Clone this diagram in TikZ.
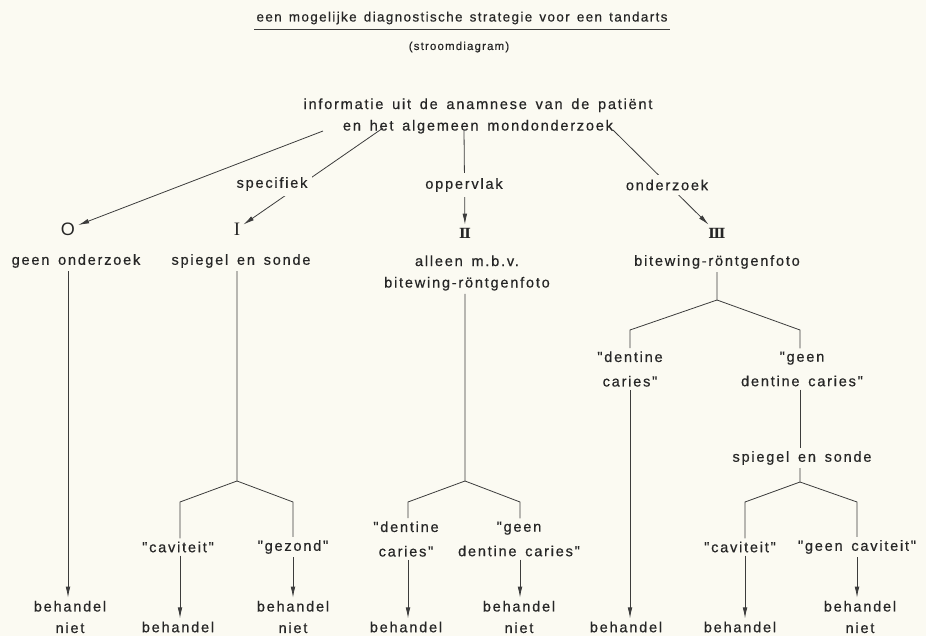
\documentclass[tikz,border=0pt]{standalone}
\usepackage{fontspec}
\setmainfont{Liberation Sans}
\newfontfamily\lblfont[LetterSpace=12,WordSpace=1.5,FakeBold=0.5]{Liberation Sans}
\newfontfamily\ttlfont[LetterSpace=10,WordSpace=1.4,FakeBold=0.5]{Liberation Sans}
\newfontfamily\romfont{DejaVu Serif}
\newfontfamily\serfont{Liberation Serif}
\usetikzlibrary{arrows.meta}
\definecolor{paper}{HTML}{FBFAF2}
\definecolor{ink}{HTML}{262626}
\tikzset{
  txt/.style={font=\lblfont\fontsize{14.6}{21.5}\selectfont, text=ink, align=center, inner sep=3pt},
  txtw/.style={txt, font=\lblfont\fontsize{14.6}{24.5}\selectfont},
  ttl/.style={font=\ttlfont\fontsize{13.5}{14}\selectfont, text=ink, inner sep=2pt},
  subt/.style={font=\ttlfont\fontsize{11.5}{14}\selectfont, text=ink, inner sep=2pt},
  cut/.style={txt, fill=paper, inner sep=5pt},
  lvl/.style={text=ink, inner sep=3pt},
  con/.style={draw=ink!90, line width=0.8pt},
  arr/.style={con, -{Latex[length=11pt,width=4.6pt]}},
}
\begin{document}
\begin{tikzpicture}[x=1pt,y=-1pt]
\fill[paper] (0,0) rectangle (926,636);
\useasboundingbox (0,0) rectangle (926,636);

% title
\node[ttl] (title) at (462,18) {een mogelijke diagnostische strategie voor een tandarts};
\draw[con, line width=0.7pt] ([yshift=-3pt]title.south west) -- ([yshift=-3pt]title.south east);
\node[subt] (sub) at (459,47) {(stroomdiagram)};

% root
\node[txt] (root) at (478,116) {informatie uit de anamnese van de patiënt\\en het algemeen mondonderzoek};
\coordinate (r0) at (323,131);
\coordinate (r1) at (383,128);
\coordinate (r2) at (464,130);
\coordinate (r3) at (613,130);

% levels
\node[lvl, font=\fontsize{18}{18}\selectfont] (l0) at (68,229) {O};
\node[lvl, font=\serfont\fontsize{19}{19}\selectfont] (l1) at (237,229) {I};
\node[lvl, font=\romfont\bfseries\fontsize{14}{14}\selectfont] (l2) at (465,233) {Ⅱ};
\node[lvl, font=\romfont\bfseries\fontsize{14}{14}\selectfont] (l3) at (717,233) {Ⅲ};

\draw[arr] (r0) -- (l0);
\draw[arr] (r1) -- (l1);
\draw[arr] (r2) -- (l2);
\draw[arr] (r3) -- (l3);
\node[cut] (spec) at (272,184) {specifiek};
\node[cut] (opp) at (464,185) {oppervlak};
\node[cut] (ond) at (667,185) {onderzoek};

% method nodes
\node[txt] (m0) at (76,261) {geen onderzoek};
\node[txt] (m1) at (241,261) {spiegel en sonde};
\node[txt] (m2) at (467,273) {alleen m.b.v.\\bitewing-röntgenfoto};
\node[txt] (m3) at (717,262) {bitewing-röntgenfoto};

% ---- branch O
\node[txt] (b0) at (70,617) {behandel\\niet};
\draw[arr] (m0.south -| l0) -- (l0 |- b0.north);

% ---- branch I
\coordinate (a1) at (237,481);
\coordinate (a1l) at (180,502);
\coordinate (a1r) at (293,502);
\node[txt] (c1l) at (178,547) {"caviteit"};
\node[txt] (c1r) at (293,547) {"gezond"};
\node[txt] (b1l) at (178,627) {behandel};
\node[txt] (b1r) at (293,617) {behandel\\niet};
\draw[con] (m1.south -| a1) -- (a1) -- (a1l) -- (a1l |- c1l.north);
\draw[con] (a1) -- (a1r) -- (c1r);
\draw[arr] (c1l.south -| a1l) -- (a1l |- b1l.north);
\draw[arr] (c1r) -- (b1r);

% ---- branch II
\coordinate (a2) at (465,481);
\coordinate (a2l) at (408,502);
\coordinate (a2r) at (520,502);
\node[txtw] (c2l) at (406,539) {"dentine\\caries"};
\node[txtw] (c2r) at (519,539) {"geen\\dentine caries"};
\node[txt] (b2l) at (406,627) {behandel};
\node[txt] (b2r) at (519,617) {behandel\\niet};
\draw[con] (m2.south -| a2) -- (a2) -- (a2l) -- (a2l |- c2l.north);
\draw[con] (a2) -- (a2r) -- (a2r |- c2r.north);
\draw[arr] (c2l.south -| a2l) -- (a2l |- b2l.north);
\draw[arr] (c2r.south -| a2r) -- (a2r |- b2r.north);

% ---- branch III
\coordinate (a3) at (717,300);
\coordinate (a3l) at (630,330);
\coordinate (a3r) at (800,330);
\node[txtw] (c3l) at (630,369) {"dentine\\caries"};
\node[txtw] (c3r) at (802,369) {"geen\\dentine caries"};
\node[txt] (b3) at (626,627) {behandel};
\draw[con] (m3) -- (a3) -- (a3l) -- (c3l);
\draw[con] (a3) -- (a3r) -- (a3r |- c3r.north);
\draw[arr] (c3l) -- (a3l |- b3.north);

\node[txt] (s3) at (802,458) {spiegel en sonde};
\draw[con] (c3r.south -| a3r) -- (a3r |- s3.north);
\coordinate (a4) at (800,482);
\coordinate (a4l) at (745,502);
\coordinate (a4r) at (857,502);
\node[txt] (c4l) at (740,547) {"caviteit"};
\node[txt] (c4r) at (857,547) {"geen caviteit"};
\node[txt] (b4l) at (740,627) {behandel};
\node[txt] (b4r) at (860,617) {behandel\\niet};
\draw[con] (s3.south -| a4) -- (a4) -- (a4l) -- (a4l |- c4l.north);
\draw[con] (a4) -- (a4r) -- (c4r);
\draw[arr] (c4l.south -| a4l) -- (a4l |- b4l.north);
\draw[arr] (c4r.south -| a4r) -- (a4r |- b4r.north);
\end{tikzpicture}
\end{document}
